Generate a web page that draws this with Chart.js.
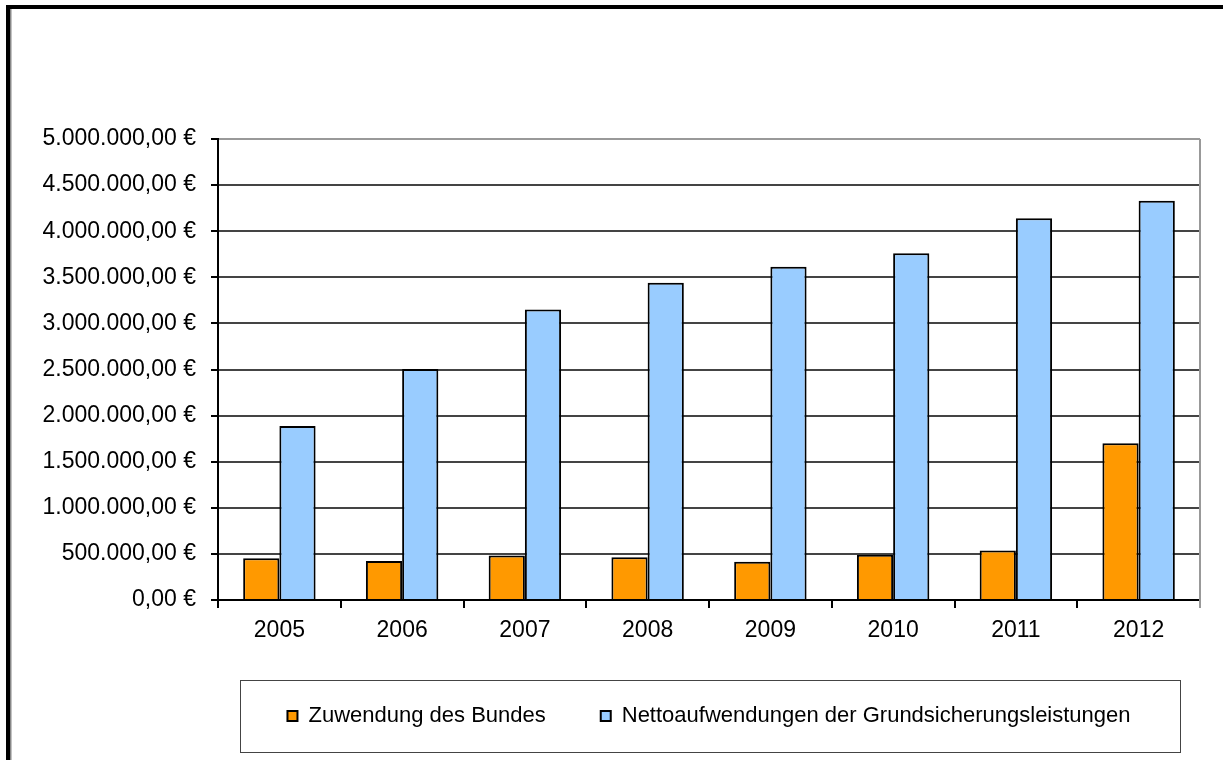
<!DOCTYPE html>
<html lang="de">
<head>
  <meta charset="UTF-8">
  <title>Zuwendung des Bundes / Nettoaufwendungen</title>
  <script src="https://cdn.jsdelivr.net/npm/chart.js"></script>
  <style>
    body {
      margin: 0;
      background: #fff;
    }
    #wrap {
      width: 1223px;
      height: 760px;
    }
  </style>
</head>
<body>
  <div id="wrap">
    <canvas id="chart" width="1223" height="760"></canvas>
  </div>

  <script>
    const years = ['2005', '2006', '2007', '2008', '2009', '2010', '2011', '2012'];
    const bundValues = [452000, 423000, 482000, 465000, 415000, 492000, 538000, 1700000];
    const nettoValues = [1887000, 2505000, 3150000, 3440000, 3615000, 3760000, 4140000, 4330000];
    const seriesNames = ['Zuwendung des Bundes', 'Nettoaufwendungen der Grundsicherungsleistungen'];
    const yMax = 5000000;
    const yStep = 500000;

    const font = "'Liberation Sans', Arial, sans-serif";

    // 5000000 -> "5.000.000,00 €"
    function euro(v) {
      const int = Math.round(v).toString().replace(/\B(?=(\d{3})+(?!\d))/g, '.');
      return int + ',00 €';
    }

    // outer frame, legend box and right border of the plot
    const framePlugin = {
      id: 'frame',
      beforeDraw(chart) {
        const ctx = chart.ctx;
        ctx.save();
        ctx.fillStyle = '#fff';
        ctx.fillRect(0, 0, chart.width, chart.height);
        ctx.fillStyle = '#000';
        ctx.fillRect(6, 5, 4, chart.height - 5);
        ctx.fillRect(6, 5, chart.width - 6, 4);
        ctx.fillStyle = '#888';
        ctx.fillRect(10, 9, 1.5, chart.height - 9);
        ctx.restore();
      },
      afterDraw(chart) {
        const ctx = chart.ctx;
        const area = chart.chartArea;
        ctx.save();
        ctx.strokeStyle = '#999';
        ctx.lineWidth = 2;
        ctx.beginPath();
        ctx.moveTo(area.right, area.top);
        ctx.lineTo(area.right, area.bottom + 8);
        ctx.stroke();
        ctx.strokeStyle = '#444';
        ctx.lineWidth = 1;
        ctx.strokeRect(240.5, 680.5, 940, 72);
        ctx.restore();
      }
    };

    new Chart(document.getElementById('chart'), {
      type: 'bar',
      data: {
        labels: years,
        datasets: [
          {
            label: seriesNames[0],
            data: bundValues,
            backgroundColor: '#FF9900',
            borderColor: '#000',
            borderWidth: 2
          },
          {
            label: seriesNames[1],
            data: nettoValues,
            backgroundColor: '#99CCFF',
            borderColor: '#000',
            borderWidth: 2
          }
        ]
      },
      options: {
        responsive: false,
        animation: false,
        layout: {
          padding: { left: 0, right: 23, top: 139, bottom: 23 }
        },
        datasets: {
          bar: { categoryPercentage: 0.59, barPercentage: 1.0 }
        },
        scales: {
          x: {
            afterFit(scale) { scale.height = 50; },
            grid: {
              offset: true,
              drawOnChartArea: false,
              tickLength: 8,
              color: '#000',
              lineWidth: 2
            },
            border: { color: '#000', width: 2 },
            ticks: {
              color: '#000',
              padding: 9,
              font: { family: font, size: 23 }
            }
          },
          y: {
            min: 0,
            max: yMax,
            afterFit(scale) { scale.width = 218; },
            grid: {
              color: ctx => (ctx.tick && ctx.tick.value === yMax) ? '#999' : '#444',
              tickColor: '#000',
              lineWidth: 2,
              tickLength: 7
            },
            border: { color: '#000', width: 2 },
            ticks: {
              stepSize: yStep,
              color: '#000',
              padding: 15,
              font: { family: font, size: 23 },
              callback: v => euro(v)
            }
          }
        },
        plugins: {
          legend: {
            position: 'bottom',
            fullSize: false,
            labels: {
              color: '#000',
              boxWidth: 10,
              boxHeight: 10,
              padding: 55,
              font: { family: font, size: 22 }
            }
          },
          tooltip: { enabled: false }
        }
      },
      plugins: [framePlugin]
    });
  </script>
</body>
</html>
